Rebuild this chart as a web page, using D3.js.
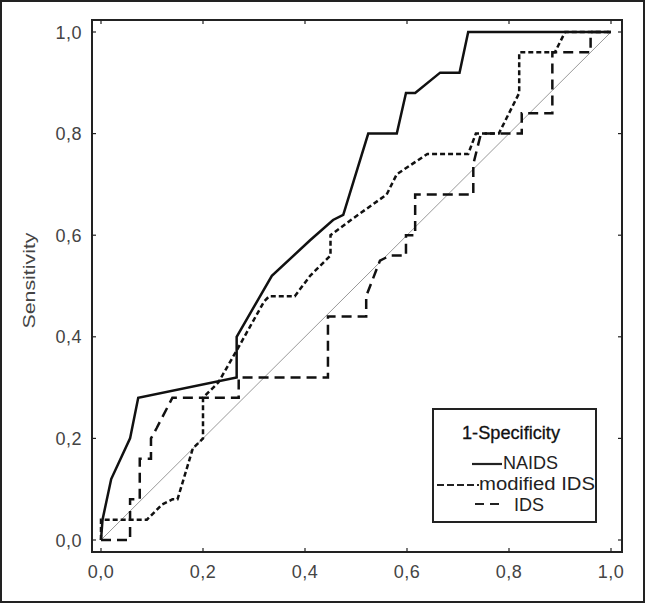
<!DOCTYPE html>
<html>
<head>
<meta charset="utf-8">
<script src="https://cdn.jsdelivr.net/npm/d3@7"></script>
<style>
  body { margin: 0; background: #fff; }
  svg { display: block; font-family: "Liberation Sans", Arial, sans-serif; }
</style>
</head>
<body>
<svg id="chart" width="645" height="603"></svg>
<script>
// ROC curves
const naidsX = [0, 0.003, 0.02, 0.057, 0.073, 0.266, 0.266, 0.335, 0.41, 0.455, 0.475, 0.524, 0.58, 0.598, 0.616, 0.665, 0.703, 0.72, 1.0]
const naidsY = [0, 0.04, 0.12, 0.2, 0.28, 0.32, 0.40, 0.52, 0.59, 0.63, 0.64, 0.80, 0.80, 0.88, 0.88, 0.92, 0.92, 1.0, 1.0]

const modX = [0, 0, 0.09, 0.12, 0.14, 0.15, 0.18, 0.2, 0.2, 0.23, 0.27, 0.32, 0.33, 0.38, 0.41, 0.45, 0.45, 0.49, 0.56, 0.58, 0.64, 0.72, 0.735, 0.78, 0.80, 0.82, 0.82, 0.89, 0.91, 1.0]
const modY = [0, 0.04, 0.04, 0.07, 0.08, 0.08, 0.18, 0.2, 0.28, 0.31, 0.38, 0.47, 0.48, 0.48, 0.52, 0.56, 0.60, 0.63, 0.68, 0.72, 0.76, 0.76, 0.80, 0.80, 0.84, 0.88, 0.96, 0.96, 1.0, 1.0]

const idsX = [0, 0.057, 0.057, 0.076, 0.076, 0.098, 0.098, 0.109, 0.14, 0.27, 0.27, 0.445, 0.445, 0.52, 0.52, 0.547, 0.567, 0.598, 0.598, 0.616, 0.616, 0.73, 0.73, 0.745, 0.825, 0.825, 0.885, 0.885, 0.96, 0.96, 1.0]
const idsY = [0, 0, 0.08, 0.08, 0.16, 0.16, 0.2, 0.22, 0.28, 0.28, 0.32, 0.32, 0.44, 0.44, 0.48, 0.55, 0.56, 0.56, 0.60, 0.60, 0.68, 0.68, 0.74, 0.80, 0.80, 0.84, 0.84, 0.96, 0.96, 1.0, 1.0]

const tickVals = [0, 0.2, 0.4, 0.6, 0.8, 1.0]
const tickLabels = ['0,0', '0,2', '0,4', '0,6', '0,8', '1,0']

const series = [
    { name: 'NAIDS', xs: naidsX, ys: naidsY, dash: null },
    { name: 'modified IDS', xs: modX, ys: modY, dash: '5,3' },
    { name: 'IDS', xs: idsX, ys: idsY, dash: '10,6' }
]

const svg = d3.select('#chart')
const W = 645, H = 603

const x = d3.scaleLinear().domain([0, 1]).range([101, 611])
const y = d3.scaleLinear().domain([0, 1]).range([540, 32])

const frame = { left: 92, right: 622, top: 20, bottom: 552 }

// outer border of the whole figure
svg.append('rect')
    .attr('x', 1).attr('y', 1)
    .attr('width', W - 2).attr('height', H - 2)
    .attr('fill', 'none').attr('stroke', '#222').attr('stroke-width', 2)

// diagonal reference
svg.append('line')
    .attr('x1', x(0)).attr('y1', y(0))
    .attr('x2', x(1)).attr('y2', y(1))
    .attr('stroke', '#999').attr('stroke-width', 1)

const line = d3.line().x(d => x(d[0])).y(d => y(d[1]))

svg.append('g').attr('class', 'curves')
    .selectAll('path')
    .data(series)
    .enter().append('path')
    .attr('d', s => line(s.xs.map((v, i) => [v, s.ys[i]])))
    .attr('fill', 'none')
    .attr('stroke', '#111')
    .attr('stroke-width', 2.5)
    .attr('stroke-dasharray', s => s.dash)

// plot frame
svg.append('rect')
    .attr('x', frame.left).attr('y', frame.top)
    .attr('width', frame.right - frame.left)
    .attr('height', frame.bottom - frame.top)
    .attr('fill', 'none').attr('stroke', '#222').attr('stroke-width', 2)

// inward ticks on all four sides
const tickLen = 4
const ticks = svg.append('g').attr('stroke', '#222').attr('stroke-width', 1.2)
tickVals.forEach(v => {
    ticks.append('line').attr('x1', x(v)).attr('x2', x(v)).attr('y1', frame.bottom).attr('y2', frame.bottom - tickLen)
    ticks.append('line').attr('x1', x(v)).attr('x2', x(v)).attr('y1', frame.top).attr('y2', frame.top + tickLen)
    ticks.append('line').attr('y1', y(v)).attr('y2', y(v)).attr('x1', frame.left).attr('x2', frame.left + tickLen)
    ticks.append('line').attr('y1', y(v)).attr('y2', y(v)).attr('x1', frame.right).attr('x2', frame.right - tickLen)
})

// tick labels
svg.append('g').selectAll('text')
    .data(tickVals)
    .enter().append('text')
    .attr('x', d => x(d))
    .attr('y', 578)
    .attr('text-anchor', 'middle')
    .attr('font-size', 18)
    .attr('letter-spacing', 0.5)
    .attr('fill', '#444')
    .text((d, i) => tickLabels[i])

svg.append('g').selectAll('text')
    .data(tickVals)
    .enter().append('text')
    .attr('x', 82)
    .attr('y', d => y(d) + 6.5)
    .attr('text-anchor', 'end')
    .attr('font-size', 18)
    .attr('letter-spacing', 0.5)
    .attr('fill', '#444')
    .text((d, i) => tickLabels[i])

svg.append('text')
    .attr('transform', 'translate(34.5, 280.5) rotate(-90)')
    .attr('text-anchor', 'middle')
    .attr('font-size', 16)
    .attr('textLength', 96)
    .attr('lengthAdjust', 'spacingAndGlyphs')
    .attr('fill', '#444')
    .text('Sensitivity')

// legend
const lg = svg.append('g')
lg.append('rect')
    .attr('x', 433).attr('y', 409)
    .attr('width', 163).attr('height', 113)
    .attr('fill', '#fff').attr('stroke', '#222').attr('stroke-width', 2)

lg.append('text')
    .attr('x', 511).attr('y', 439)
    .attr('text-anchor', 'middle')
    .attr('font-size', 18)
    .attr('textLength', 98)
    .attr('lengthAdjust', 'spacingAndGlyphs')
    .attr('fill', '#111')
    .attr('stroke', '#111')
    .attr('stroke-width', 0.3)
    .text('1-Specificity')

const legendRows = [
    { x1: 472, x2: 502, y: 464, tx: 503, ty: 469, len: 55, dash: null },
    { x1: 437, x2: 479, y: 485, tx: 479, ty: 490, len: 116, dash: '7,3' },
    { x1: 475, x2: 500, y: 504, tx: 514, ty: 511, len: 30, dash: '9,6' }
]

series.forEach((s, i) => {
    const r = legendRows[i]
    lg.append('line')
        .attr('x1', r.x1).attr('x2', r.x2)
        .attr('y1', r.y).attr('y2', r.y)
        .attr('stroke', '#222').attr('stroke-width', 2.2)
        .attr('stroke-dasharray', r.dash)
    lg.append('text')
        .attr('x', r.tx).attr('y', r.ty)
        .attr('font-size', 18)
        .attr('textLength', r.len)
        .attr('lengthAdjust', 'spacingAndGlyphs')
        .attr('fill', '#222')
        .text(s.name)
})
</script>
</body>
</html>
